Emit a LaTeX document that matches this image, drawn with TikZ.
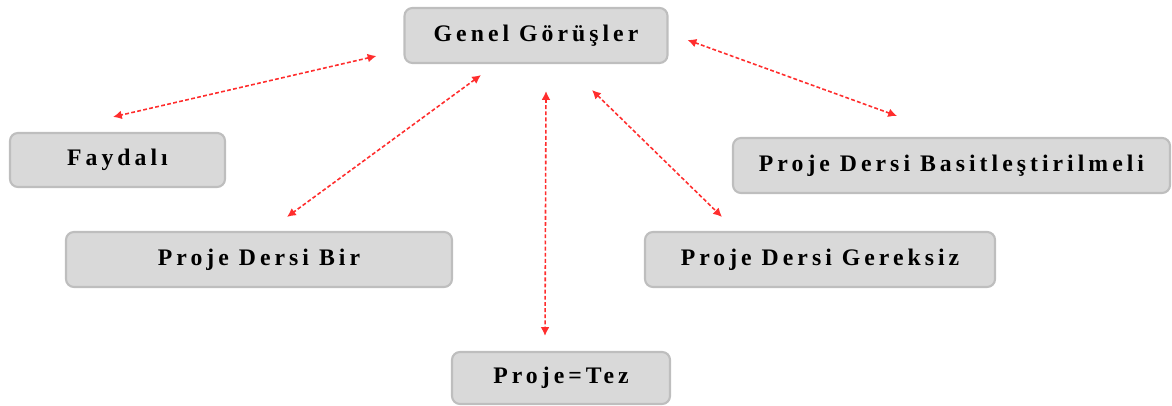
\documentclass[tikz,border=0pt]{standalone}
\usepackage{fontspec}
\newfontfamily\boxfont{Liberation Serif}[LetterSpace=17]
\usepackage{tikz}
\usetikzlibrary{shapes,arrows.meta}
\usepackage{xcolor}
\definecolor{boxfill}{RGB}{217,217,217}
\definecolor{boxline}{RGB}{190,190,190}
\definecolor{linkred}{RGB}{255,45,45}

\begin{document}
\begin{tikzpicture}[>={Latex[length=5pt,width=5pt]},
	box/.style={rectangle, rounded corners=4.5pt, draw=boxline, fill=boxfill, line width=1.2pt, minimum height=1.1cm, inner sep=0pt, font=\boxfont\bfseries\fontsize{13.5}{15}\selectfont},
	link/.style={<->, draw=linkred, line width=0.9pt, dash pattern=on 2.2pt off 1.3pt}]
\useasboundingbox(0,0)rectangle(23.44,8.12);
\draw(10.72,7.41)node[box, minimum width=5.26cm](genel){Genel Görüşler}
	(2.35,4.92)node[box, minimum width=4.3cm, minimum height=1.08cm](faydali){Faydalı}
	(5.18,2.93)node[box, minimum width=7.72cm](bir){Proje Dersi Bir}
	(11.22,0.56)node[box, minimum width=4.36cm, minimum height=1.04cm](tez){Proje=Tez}
	(19.03,4.81)node[box, minimum width=8.74cm](basit){Proje Dersi Basitleştirilmeli}
	(16.4,2.93)node[box, minimum width=7cm](gereksiz){Proje Dersi Gereksiz}
	;
\draw[link]([shift={(-0.54,-0.41)}]genel.west)to([shift={(-0.09,0.30)}]faydali.north);
\draw[link]([shift={(-1.10,-0.22)}]genel.south)to([shift={(0.56,0.28)}]bir.north);
\draw[link]([shift={(0.20,-0.54)}]genel.south)to([shift={(-0.32,0.30)}]tez.north);
\draw[link]([shift={(1.12,-0.52)}]genel.south)to([shift={(-1.96,0.28)}]gereksiz.north);
\draw[link]([shift={(0.38,-0.09)}]genel.east)to([shift={(-1.09,0.42)}]basit.north);
\end{tikzpicture}
\end{document}
